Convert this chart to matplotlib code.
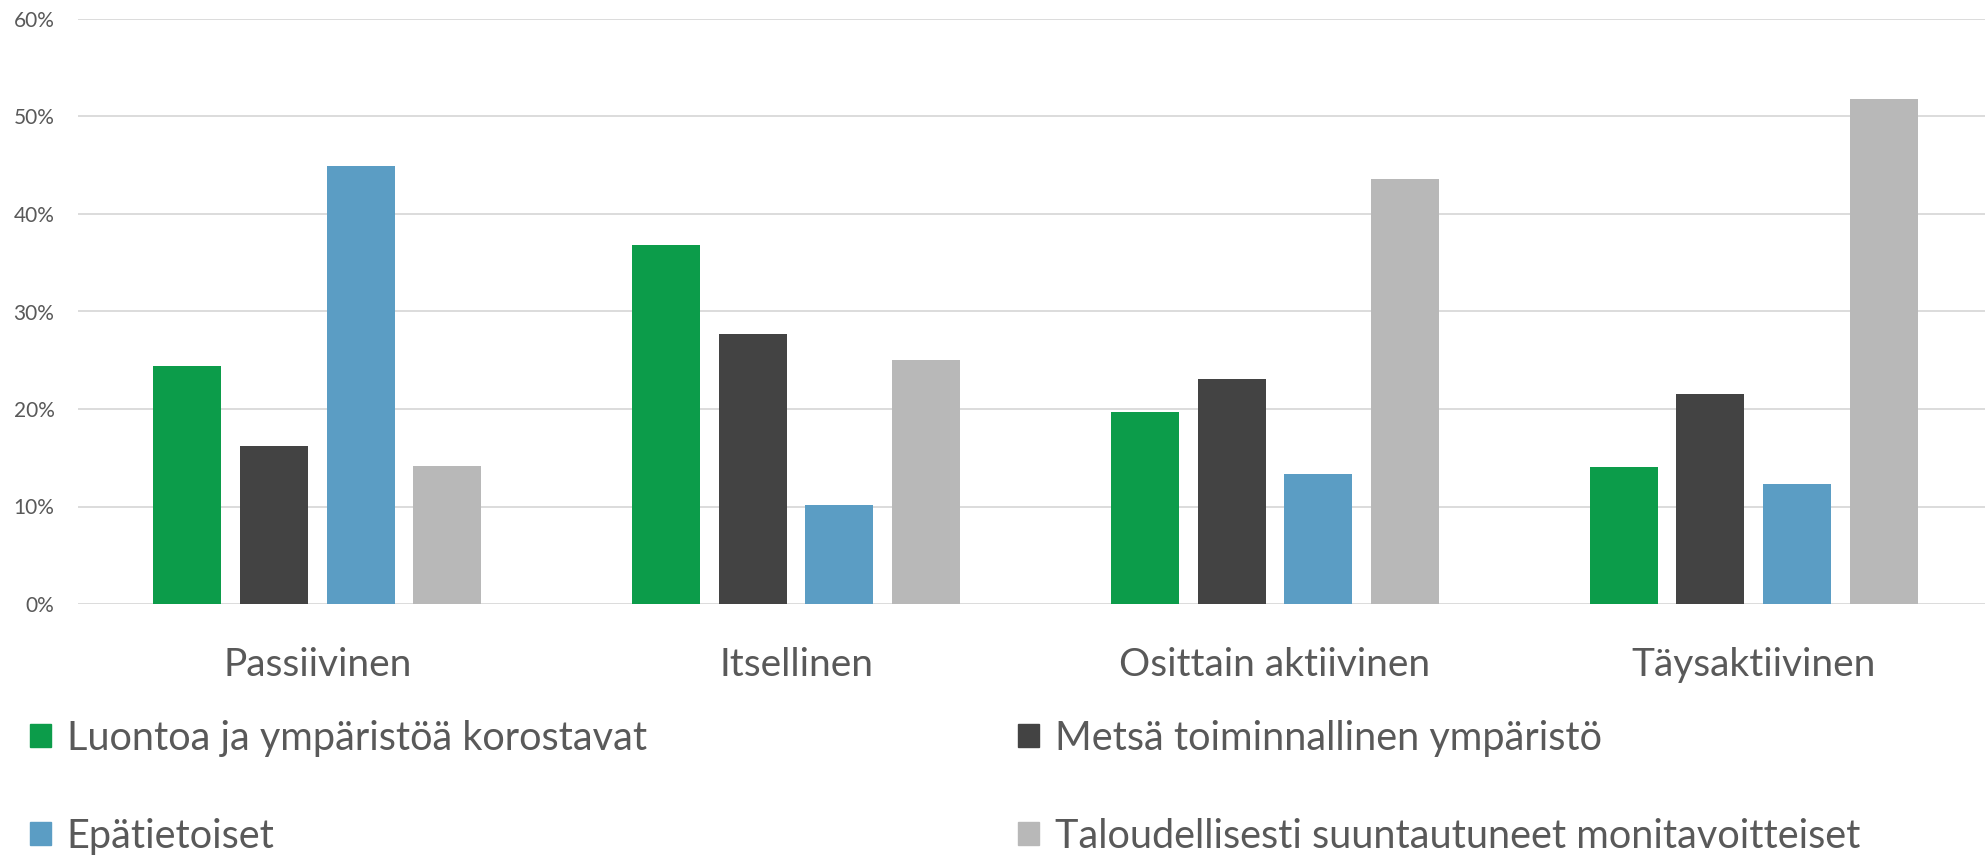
import numpy as np
import matplotlib
matplotlib.use('Agg')
import matplotlib.pyplot as plt
from matplotlib.ticker import PercentFormatter
from matplotlib.patches import Patch

# data
categories = ['Passiivinen', 'Itsellinen', 'Osittain aktiivinen', 'Täysaktiivinen']
series_names = ['Luontoa ja ympäristöä korostavat',
                'Metsä toiminnallinen ympäristö',
                'Epätietoiset',
                'Taloudellisesti suuntautuneet monitavoitteiset']
luontoa = [24.4, 36.8, 19.7, 14.1]
metsa = [16.2, 27.7, 23.1, 21.5]
epatietoiset = [44.9, 10.2, 13.3, 12.3]
taloudellisesti = [14.2, 25.0, 43.6, 51.8]
yticks = [0, 10, 20, 30, 40, 50, 60]

colors = ['#0C9C4A', '#434343', '#5B9DC4', '#B8B8B8']
text_col = '#595959'

plt.rcParams['font.family'] = ['Lato', 'DejaVu Sans']

fig = plt.figure(figsize=(19.85, 8.55), dpi=100)
ax = fig.add_axes([78 / 1985, 251 / 855, 1915 / 1985, 585 / 855])

x = np.arange(len(categories))
bw = 0.142
step = 0.181
all_series = [luontoa, metsa, epatietoiset, taloudellisesti]
for i, vals in enumerate(all_series):
    ax.bar(x + (i - 1.5) * step, vals, width=bw, color=colors[i], zorder=3)

ax.set_xlim(-0.5, 3.5)
ax.set_ylim(0, 60)
ax.set_yticks(yticks)
ax.yaxis.set_major_formatter(PercentFormatter(decimals=0))
ax.set_xticks(x)
ax.set_xticklabels(categories)
ax.grid(axis='y', color='#D9D9D9', linewidth=1.3, zorder=0)
ax.set_axisbelow(True)
for s in ax.spines.values():
    s.set_visible(False)
ax.tick_params(axis='x', length=0, pad=31, labelsize=28, labelcolor=text_col)
ax.tick_params(axis='y', length=0, pad=17, labelsize=15, labelcolor=text_col)

# legend: column-wise, one legend per entry
pos = [(30, 738), (1018, 738), (30, 836), (1018, 836)]
for i, name in enumerate(series_names):
    px, py = pos[i]
    fig.legend(handles=[Patch(color=colors[i])], labels=[name],
               loc='center left', bbox_to_anchor=(px / 1985, 1 - py / 855),
               frameon=False, fontsize=28.5, labelcolor=text_col,
               borderpad=0, borderaxespad=0, handlelength=0.53,
               handleheight=0.53, handletextpad=0.4)

fig.savefig('out.png', dpi=100)
